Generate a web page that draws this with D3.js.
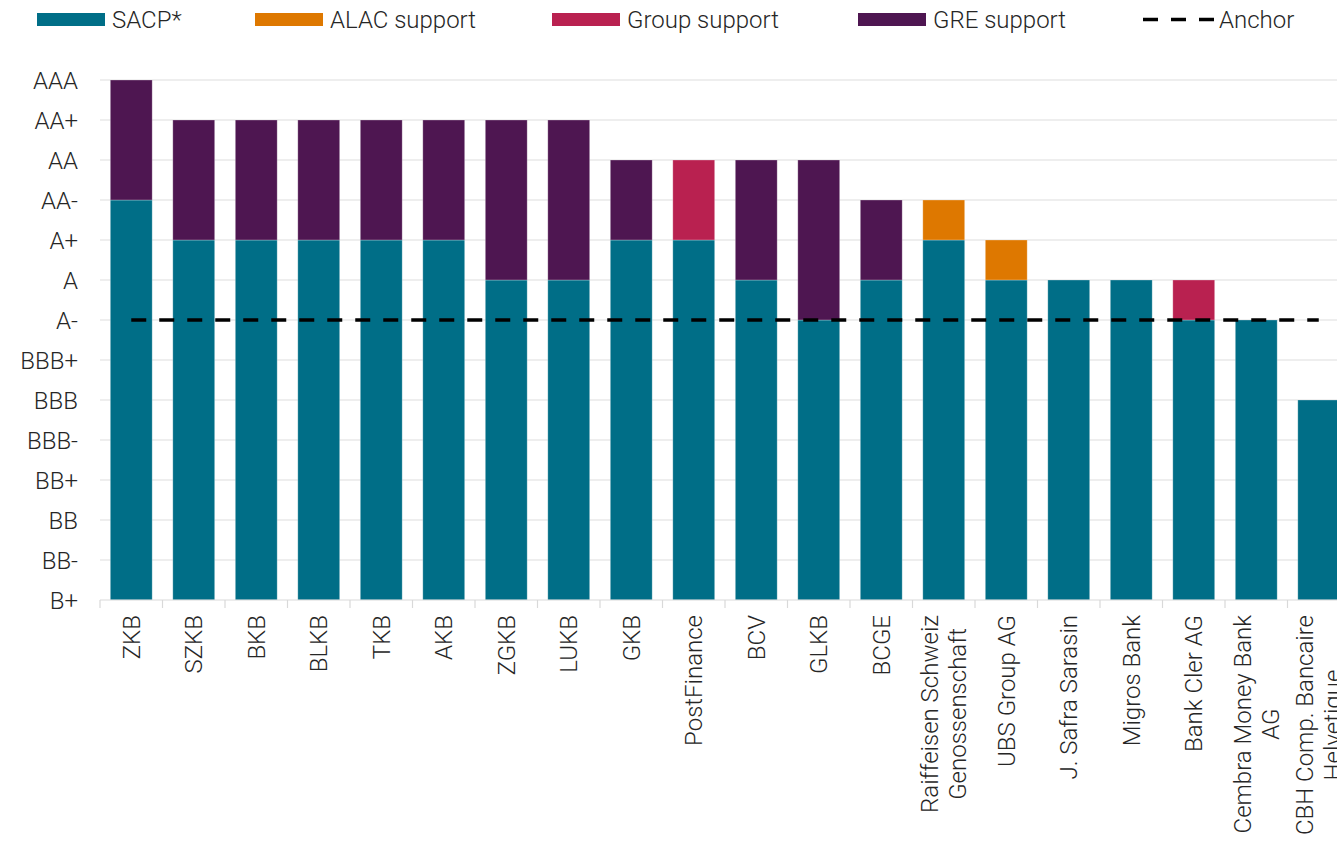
<!DOCTYPE html>
<html>
<head>
<meta charset="utf-8">
<script src="https://cdn.jsdelivr.net/npm/d3@7"></script>
<style>
  body { margin: 0; background: #fff; }
  svg { display: block; font-family: Roboto, 'Liberation Sans', sans-serif; font-weight: 300; }
  text { fill: #262626; }
</style>
</head>
<body>
<div id="chart"></div>
<script>
// rating scale, lowest first
const ratings = ['B+', 'BB-', 'BB', 'BB+', 'BBB-', 'BBB', 'BBB+', 'A-', 'A', 'A+', 'AA-', 'AA', 'AA+', 'AAA'];

const banks = ['ZKB', 'SZKB', 'BKB', 'BLKB', 'TKB', 'AKB', 'ZGKB', 'LUKB', 'GKB', 'PostFinance',
  'BCV', 'GLKB', 'BCGE', 'Raiffeisen Schweiz\nGenossenschaft', 'UBS Group AG', 'J. Safra Sarasin',
  'Migros Bank', 'Bank Cler AG', 'Cembra Money Bank\nAG', 'CBH Comp. Bancaire\nHelvetique'];

// stand-alone credit profile per bank
const sacp = ['AA-', 'A+', 'A+', 'A+', 'A+', 'A+', 'A', 'A', 'A+', 'A+',
  'A', 'A-', 'A', 'A+', 'A', 'A', 'A', 'A-', 'A-', 'BBB'];

// uplift in notches
const alacSupport  = [0, 0, 0, 0, 0, 0, 0, 0, 0, 0, 0, 0, 0, 1, 1, 0, 0, 0, 0, 0];
const groupSupport = [0, 0, 0, 0, 0, 0, 0, 0, 0, 2, 0, 0, 0, 0, 0, 0, 0, 1, 0, 0];
const greSupport   = [3, 3, 3, 3, 3, 3, 4, 4, 2, 0, 3, 4, 2, 0, 0, 0, 0, 0, 0, 0];

const anchor = 'A-';

const seriesNames  = ['SACP*', 'ALAC support', 'Group support', 'GRE support'];
const seriesColors = ['#006e87', '#de7800', '#b92150', '#4e1651'];

const width = 1337, height = 842;
const margin = { top: 80, left: 100, bottom: 242 };
const plotRight = 1350; // last band runs past the page edge
const fontSize = '24px';

const svg = d3.select('#chart').append('svg')
  .attr('width', width)
  .attr('height', height);

const y = d3.scaleLinear()
  .domain([0, ratings.length - 1])
  .range([height - margin.bottom, margin.top]);

const x = d3.scaleBand()
  .domain(banks)
  .range([margin.left, plotRight])
  .paddingInner(0.33)
  .paddingOuter(0.165);

// grid
svg.append('g')
  .attr('class', 'grid')
  .selectAll('line')
  .data(d3.range(1, ratings.length))
  .enter().append('line')
    .attr('x1', margin.left)
    .attr('x2', width)
    .attr('y1', d => y(d))
    .attr('y2', d => y(d))
    .style('stroke', '#dedede')
    .style('stroke-width', 1.2);

// y labels
let yAxis = d3.axisLeft(y)
  .tickValues(d3.range(ratings.length))
  .tickFormat(i => ratings[i])
  .tickSize(0)
  .tickPadding(0);

svg.append('g')
  .attr('transform', 'translate(78,0)')
  .call(yAxis)
  .attr('font-family', null)
  .attr('font-size', null)
  .call(g => g.select('.domain').remove())
  .selectAll('text')
    .style('font-size', fontSize)
    .attr('dy', '0.35em');

// stacked bars
const table = banks.map((b, i) => ({
  bank: b,
  'SACP*': ratings.indexOf(sacp[i]),
  'ALAC support': alacSupport[i],
  'Group support': groupSupport[i],
  'GRE support': greSupport[i]
}));

const stack = d3.stack().keys(seriesNames)(table);

svg.append('g')
  .attr('class', 'bars')
  .selectAll('g')
  .data(stack)
  .enter().append('g')
    .style('fill', (d, i) => seriesColors[i])
  .selectAll('rect')
  .data(d => d.filter(p => p[1] > p[0]))
  .enter().append('rect')
    .attr('x', d => x(d.data.bank))
    .attr('width', x.bandwidth())
    .attr('y', d => y(d[1]))
    .attr('height', d => y(d[0]) - y(d[1]))
    .style('stroke', '#ffffff')
    .style('stroke-opacity', 0.35)
    .style('stroke-width', 0.8);

// x axis baseline and band ticks
let baseY = y(0);
let gap = (x.step() - x.bandwidth()) / 2;

svg.append('line')
  .attr('x1', margin.left)
  .attr('x2', width)
  .attr('y1', baseY)
  .attr('y2', baseY)
  .style('stroke', '#d9d9d9')
  .style('stroke-width', 1.2);

svg.append('g')
  .selectAll('line')
  .data(banks)
  .enter().append('line')
    .attr('x1', d => x(d) - gap)
    .attr('x2', d => x(d) - gap)
    .attr('y1', baseY)
    .attr('y2', baseY + 8)
    .style('stroke', '#d9d9d9')
    .style('stroke-width', 1.2);

// anchor line
let anchorLevel = ratings.indexOf(anchor);
svg.append('line')
  .attr('x1', x(banks[0]) + x.bandwidth() / 2)
  .attr('x2', x(banks[banks.length - 1]) + x.bandwidth() / 2)
  .attr('y1', y(anchorLevel))
  .attr('y2', y(anchorLevel))
  .style('stroke', '#000')
  .style('stroke-width', 3.3)
  .style('stroke-dasharray', '15,13');

// category labels, rotated, wrapped lines centred on each other
let lineGap = 28;
let labels = svg.append('g')
  .attr('class', 'x-labels')
  .selectAll('g')
  .data(banks)
  .enter().append('g')
    .attr('transform', d => 'translate(' + (x(d) + x.bandwidth() / 2) + ',' + (baseY + 15) + ') rotate(-90)');

labels.each(function(d) {
  let lines = d.split('\n');
  let g = d3.select(this);
  let texts = g.selectAll('text')
    .data(lines)
    .enter().append('text')
      .text(t => t)
      .style('font-size', fontSize)
      .attr('text-anchor', 'middle')
      .attr('dy', '0.35em');
  let maxLen = d3.max(texts.nodes(), n => n.getComputedTextLength());
  let first = -(lines.length - 1) * lineGap / 2;
  texts
    .attr('x', -maxLen / 2)
    .attr('y', (t, i) => first + i * lineGap);
});

// legend
let legendItems = [
  { name: seriesNames[0], color: seriesColors[0], x: 37 },
  { name: seriesNames[1], color: seriesColors[1], x: 255 },
  { name: seriesNames[2], color: seriesColors[2], x: 552 },
  { name: seriesNames[3], color: seriesColors[3], x: 858 }
];

let legend = svg.append('g').attr('class', 'legend');

legend.selectAll('rect')
  .data(legendItems)
  .enter().append('rect')
    .attr('x', d => d.x)
    .attr('y', 13)
    .attr('width', 68)
    .attr('height', 13)
    .style('fill', d => d.color);

legend.selectAll('text.series')
  .data(legendItems)
  .enter().append('text')
    .attr('class', 'series')
    .text(d => d.name)
    .attr('x', d => d.x + 75)
    .attr('y', 19.5)
    .attr('dy', '0.35em')
    .style('font-size', fontSize);

legend.append('line')
  .attr('x1', 1143)
  .attr('x2', 1214)
  .attr('y1', 19.5)
  .attr('y2', 19.5)
  .style('stroke', '#000')
  .style('stroke-width', 3.3)
  .style('stroke-dasharray', '15,13');

legend.append('text')
  .text('Anchor')
  .attr('x', 1219)
  .attr('y', 19.5)
  .attr('dy', '0.35em')
  .style('font-size', fontSize);
</script>
</body>
</html>
